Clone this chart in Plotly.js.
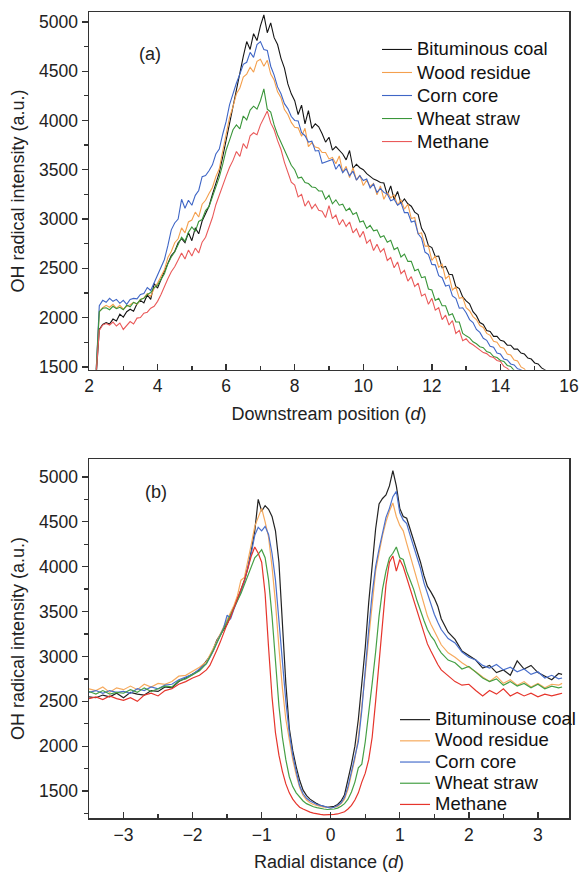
<!DOCTYPE html>
<html>
<head>
<meta charset="utf-8">
<script src="https://cdn.plot.ly/plotly-3.0.1.min.js"></script>
<style>html,body{margin:0;padding:0;background:#fff;}#chart{width:581px;height:876px;}</style>
</head>
<body>
<div id="chart"></div>
<script>
// ---------- Panel (a): downstream position ----------
const xA = [2.2,2.3,2.4,2.5,2.6,2.7,2.8,2.9,
3.0,3.1,3.2,3.3,3.4,3.5,3.6,3.7,3.8,3.9,
4.0,4.1,4.2,4.3,4.4,4.5,4.6,4.7,4.8,4.9,
5.0,5.1,5.2,5.3,5.4,5.5,5.6,5.7,5.8,5.9,
6.0,6.1,6.2,6.3,6.4,6.5,6.6,6.7,6.8,6.9,
7.0,7.1,7.2,7.3,7.4,7.5,7.6,7.7,7.8,7.9,
8.0,8.1,8.2,8.3,8.4,8.5,8.6,8.7,8.8,8.9,
9.0,9.1,9.2,9.3,9.4,9.5,9.6,9.7,9.8,9.9,
10.0,10.1,10.2,10.3,10.4,10.5,10.6,10.7,10.8,10.9,
11.0,11.1,11.2,11.3,11.4,11.5,11.6,11.7,11.8,11.9,
12.0,12.1,12.2,12.3,12.4,12.5,12.6,12.7,12.8,12.9,
13.0,13.1,13.2,13.3,13.4,13.5,13.6,13.7,13.8,13.9,
14.0,14.1,14.2,14.3,14.4,14.5,14.6,14.7,14.8,14.9,
15.0,15.1,15.2,15.3,15.4];

const coalA = [1350,1880,1930,1950,1935,1985,1965,2035,
2005,2060,2085,2065,2140,2175,2150,2230,2185,2345,
2300,2395,2470,2550,2630,2670,2760,2800,2760,2860,
2780,2910,2850,2980,3050,3130,3250,3360,3470,3630,
3800,3990,4140,4330,4490,4650,4800,4720,4880,4810,
4960,5070,4890,4990,4840,4770,4630,4530,4370,4270,
4200,4060,4155,3965,4100,3920,3965,3935,3865,3780,
3830,3700,3735,3695,3660,3600,3695,3515,3555,3520,
3500,3460,3435,3405,3390,3370,3365,3245,3335,3200,
3280,3160,3205,3155,3130,3070,3045,2905,2845,2730,
2710,2620,2625,2505,2520,2440,2435,2315,2295,2210,
2170,2140,2060,2020,1950,1930,1870,1860,1810,1810,
1770,1760,1720,1720,1680,1680,1640,1630,1590,1580,
1540,1530,1490,1470,1440];

const woodA = [1400,2060,2100,2125,2105,2135,2095,2125,
2085,2115,2130,2155,2135,2185,2200,2245,2215,2295,
2350,2425,2485,2610,2670,2760,2800,2910,2860,2970,
2990,3070,3020,3150,3190,3260,3320,3430,3510,3690,
3850,4030,4140,4270,4330,4440,4470,4540,4490,4600,
4620,4550,4610,4470,4410,4290,4230,4110,4060,3980,
3930,3925,3840,3920,3735,3775,3730,3720,3675,3675,
3610,3625,3560,3640,3475,3535,3420,3520,3395,3445,
3340,3395,3330,3360,3245,3335,3200,3270,3215,3245,
3140,3195,3100,3150,3005,3015,2850,2860,2725,2725,
2580,2625,2510,2540,2395,2425,2280,2310,2195,2205,
2100,2070,2010,1980,1920,1900,1840,1820,1760,1750,
1700,1690,1630,1620,1570,1560,1500,1480,1430,1400,
1370,1340,1310,1280,1250];

const cornA = [1400,2120,2175,2155,2195,2165,2185,2145,
2175,2135,2185,2195,2190,2235,2245,2305,2275,2355,
2420,2510,2590,2730,2890,2960,3000,3200,3110,3190,
3140,3240,3290,3430,3440,3490,3550,3660,3710,3860,
3990,4160,4280,4380,4470,4570,4590,4690,4640,4770,
4800,4720,4710,4550,4460,4340,4270,4170,4120,4040,
4000,3995,3875,3845,3780,3790,3690,3695,3565,3580,
3590,3605,3505,3555,3470,3510,3440,3485,3395,3440,
3390,3405,3315,3355,3270,3310,3270,3255,3185,3200,
3140,3165,3065,3065,2970,2980,2850,2805,2665,2640,
2540,2535,2425,2405,2320,2330,2220,2195,2095,2100,
2050,1980,1950,1880,1850,1790,1770,1710,1700,1640,
1630,1580,1570,1530,1520,1480,1470,1430,1400,1370,
1340,1310,1280,1250,1220];

const wheatA = [1400,2060,2095,2100,2080,2115,2090,2105,
2080,2125,2110,2155,2140,2185,2195,2235,2255,2305,
2330,2395,2445,2545,2615,2665,2735,2815,2775,2865,
2920,2875,2975,2995,3085,3125,3225,3325,3425,3555,
3700,3800,3905,3955,3915,4045,4005,4105,4145,4115,
4200,4320,4115,4085,3955,3855,3775,3695,3615,3545,
3500,3415,3425,3370,3360,3325,3320,3285,3285,3200,
3240,3155,3195,3140,3150,3085,3110,3045,3065,2970,
2980,2905,2935,2880,2890,2815,2830,2765,2785,2690,
2710,2615,2645,2570,2570,2475,2490,2405,2415,2290,
2280,2175,2195,2120,2120,2025,2040,1955,1955,1840,
1815,1795,1755,1735,1705,1695,1655,1645,1605,1595,
1565,1555,1515,1505,1465,1450,1420,1400,1370,1350,
1320,1300,1270,1250,1220];

const methaneA = [1400,1870,1925,1940,1925,1955,1915,1945,
1880,1925,1960,1935,1995,2000,2045,2055,2095,2115,
2165,2235,2325,2395,2465,2515,2585,2655,2595,2685,
2625,2705,2655,2765,2815,2905,3015,3145,3245,3355,
3435,3525,3595,3685,3635,3765,3715,3845,3875,3855,
3955,4025,4095,3975,3905,3795,3705,3575,3485,3375,
3345,3225,3250,3130,3185,3105,3150,3090,3080,3015,
3135,3005,3040,2940,2995,2925,2970,2860,2900,2815,
2875,2755,2790,2680,2745,2665,2700,2580,2610,2505,
2565,2445,2480,2370,2415,2315,2350,2220,2240,2135,
2195,2075,2100,1980,2025,1925,1970,1840,1870,1765,
1785,1745,1725,1695,1675,1645,1635,1605,1595,1565,
1555,1505,1485,1450,1420,1390,1360,1330,1300,1270,
1240,1210,1180,1150,1120];

// ---------- Panel (b): radial distance ----------
const xB = [-3.5,-3.4,-3.3,-3.2,-3.1,-3.0,-2.9,-2.8,-2.7,-2.6,-2.5,-2.4,-2.3,-2.2,-2.1,-2.0,-1.9,
-1.8,-1.75,-1.7,-1.65,-1.6,-1.55,-1.5,-1.45,-1.4,-1.35,
-1.3,-1.25,-1.2,-1.15,-1.1,-1.05,-1.0,-0.95,-0.9,-0.85,
-0.8,-0.75,-0.7,-0.65,-0.6,-0.55,-0.5,-0.45,-0.4,-0.35,
-0.3,-0.25,-0.2,-0.15,-0.1,-0.05,0,0.05,0.1,0.15,
0.2,0.25,0.3,0.35,0.4,0.45,0.5,0.55,0.6,0.65,
0.7,0.75,0.8,0.85,0.9,0.95,1.0,1.05,1.1,1.15,
1.2,1.25,1.3,1.35,1.4,1.45,1.5,1.55,1.6,
1.7,1.8,1.9,2.0,2.1,2.2,2.3,2.4,2.5,2.6,2.7,2.8,2.9,3.0,3.1,3.2,3.3,3.35];

const coalB = [2550,2540,2570,2550,2590,2540,2600,2580,2570,2620,2610,2660,2650,2720,2760,2810,2850,
2950,3000,3080,3180,3240,3300,3360,3450,3540,3640,
3740,3850,3990,4180,4400,4750,4620,4680,4640,4560,
4400,4050,3400,2700,2200,1950,1770,1620,1510,1450,
1410,1380,1360,1340,1330,1320,1325,1330,1350,1390,
1460,1620,1800,2000,2300,2700,3100,3600,4000,4420,
4700,4760,4800,4900,5070,4900,4650,4560,4540,4420,
4300,4180,4050,3900,3780,3720,3650,3560,3420,
3270,3190,3060,3010,2960,2870,2900,2820,2850,2790,2950,2860,2900,2820,2780,2740,2810,2800];

const woodB = [2640,2620,2660,2600,2650,2630,2670,2630,2690,2660,2700,2690,2720,2780,2790,2840,2880,
2940,3010,3090,3170,3250,3330,3410,3480,3570,3680,
3850,3880,4050,4250,4450,4560,4650,4500,4330,4000,
3600,3100,2650,2300,2050,1850,1680,1540,1450,1400,
1370,1350,1340,1330,1320,1320,1315,1320,1330,1360,
1410,1520,1680,1860,2100,2420,2800,3200,3600,3950,
4150,4350,4500,4620,4710,4560,4460,4400,4260,4120,
3980,3850,3700,3580,3450,3360,3280,3200,3130,
3040,2990,2930,2880,2830,2770,2720,2780,2700,2740,2680,2720,2660,2700,2650,2690,2680,2700];

const cornB = [2600,2620,2590,2620,2600,2610,2590,2640,2620,2660,2640,2680,2690,2740,2770,2800,2860,
2920,2990,3060,3150,3230,3320,3460,3420,3530,3620,
3720,3830,3980,4150,4350,4440,4400,4450,4360,4150,
3850,3400,2900,2500,2150,1900,1720,1560,1470,1420,
1390,1370,1350,1340,1330,1320,1310,1320,1340,1370,
1430,1550,1720,1900,2050,2400,2900,3300,3700,4000,
4200,4380,4550,4650,4780,4840,4600,4520,4480,4350,
4220,4100,3980,3820,3700,3580,3470,3380,3300,
3200,3150,3050,2990,2960,2900,2870,2910,2850,2880,2830,2860,2800,2830,2760,2790,2750,2760];

const wheatB = [2610,2580,2620,2580,2600,2590,2630,2600,2650,2610,2640,2670,2660,2730,2750,2800,2840,
2920,2990,3070,3150,3230,3310,3390,3460,3540,3620,
3700,3800,3900,4000,4100,4140,4190,4100,3850,3450,
2900,2450,2100,1850,1660,1550,1480,1430,1390,1360,
1340,1325,1315,1305,1300,1295,1295,1300,1310,1330,
1360,1410,1490,1600,1760,1800,2050,2350,2700,3050,
3450,3750,3950,4100,4150,4220,4100,4080,3950,3850,
3750,3620,3500,3400,3300,3230,3180,3100,3040,
2960,2930,2860,2890,2820,2760,2720,2750,2680,2720,2670,2700,2650,2690,2640,2670,2650,2660];

const methaneB = [2530,2550,2520,2560,2530,2510,2540,2500,2570,2590,2560,2620,2640,2690,2720,2760,2790,
2850,2900,2980,3070,3160,3270,3360,3440,3540,3640,
3730,3850,3980,4120,4220,4150,4050,3700,3100,2550,
2150,1900,1720,1580,1480,1410,1360,1320,1300,1280,
1265,1255,1245,1240,1235,1235,1235,1240,1245,1255,
1270,1300,1340,1400,1480,1600,1700,1850,2100,2500,
2950,3400,3800,4050,4120,3950,4080,4000,3880,3760,
3640,3500,3380,3260,3140,3060,2980,2910,2850,
2780,2720,2680,2690,2620,2560,2620,2580,2640,2560,2600,2560,2590,2550,2580,2560,2580,2590];

const namesA = ['Bituminous coal','Wood residue','Corn core','Wheat straw','Methane'];
const namesB = ['Bituminouse coal','Wood residue','Corn core','Wheat straw','Methane'];
const colorsA = ['#151515','#f4a04e','#3f66c6','#3a963a','#ea5a5a'];
const colorsB = ['#222222','#f6aa5e','#4a70cc','#45a045','#e6352c'];

const seriesA = [coalA, woodA, cornA, wheatA, methaneA];
const seriesB = [coalB, woodB, cornB, wheatB, methaneB];

const FONT = 'Arial, "Liberation Sans", sans-serif';
const traces = [];
seriesA.forEach((ys, i) => {
  traces.push({x: xA, y: ys, type: 'scatter', mode: 'lines', xaxis: 'x', yaxis: 'y',
    name: '<span style="font-size:18.5px">' + namesA[i] + '</span>', legend: 'legend',
    line: {color: colorsA[i], width: 1.1}});
});
seriesB.forEach((ys, i) => {
  traces.push({x: xB, y: ys, type: 'scatter', mode: 'lines', xaxis: 'x2', yaxis: 'y2',
    name: '<span style="font-size:18.5px">' + namesB[i] + '</span>', legend: 'legend2',
    line: {color: colorsB[i], width: 1.2}});
});

const axisCommon = {
  showline: true, mirror: true, linecolor: '#333', linewidth: 1.5,
  showgrid: false, zeroline: false, tickcolor: '#333', tickwidth: 1.3,
  tickfont: {size: 17.5, color: '#222', family: FONT}
};

const layout = {
  width: 581, height: 876,
  margin: {l: 89, r: 12, t: 12, b: 58, autoexpand: false},
  paper_bgcolor: '#ffffff', plot_bgcolor: '#ffffff',
  font: {family: FONT, size: 17, color: '#222'},
  showlegend: true,
  xaxis: Object.assign({}, axisCommon, {
    domain: [0, 1], anchor: 'y', range: [2, 16], tick0: 2, dtick: 2,
    ticks: 'inside', ticklen: 6,
    minor: {dtick: 1, ticks: 'inside', ticklen: 4, tickcolor: '#333'},
    title: {text: 'Downstream position (<i>d</i>)', font: {size: 18, family: FONT, color: '#222'}, standoff: 12}
  }),
  yaxis: Object.assign({}, axisCommon, {
    domain: [0.556, 1], anchor: 'x', range: [1470, 5100], tick0: 1500, dtick: 500,
    ticks: 'outside', ticklen: 6,
    minor: {dtick: 250, ticks: 'outside', ticklen: 4, tickcolor: '#333'},
    title: {text: 'OH radical intensity (a.u.)', font: {size: 18, family: FONT, color: '#222'}, standoff: 10}
  }),
  xaxis2: Object.assign({}, axisCommon, {
    domain: [0, 1], anchor: 'y2', range: [-3.5, 3.45], tick0: 0, dtick: 1,
    ticks: 'inside', ticklen: 6,
    minor: {dtick: 0.5, ticks: 'inside', ticklen: 4, tickcolor: '#333'},
    title: {text: 'Radial distance (<i>d</i>)', font: {size: 18, family: FONT, color: '#222'}, standoff: 12}
  }),
  yaxis2: Object.assign({}, axisCommon, {
    domain: [0, 0.4454], anchor: 'x2', range: [1200, 5200], tick0: 1500, dtick: 500,
    ticks: 'outside', ticklen: 6,
    minor: {dtick: 250, ticks: 'outside', ticklen: 4, tickcolor: '#333'},
    title: {text: 'OH radical intensity (a.u.)', font: {size: 18, family: FONT, color: '#222'}, standoff: 10}
  }),
  legend: {x: 0.6, y: 0.974, xanchor: 'left', yanchor: 'top', bgcolor: 'rgba(0,0,0,0)',
    font: {size: 15.4, family: FONT, color: '#111'}, tracegroupgap: 0},
  legend2: {x: 0.6375, y: 0.1414, xanchor: 'left', yanchor: 'top', bgcolor: 'rgba(0,0,0,0)',
    font: {size: 14, family: FONT, color: '#111'}, tracegroupgap: 0},
  annotations: [
    {text: '(a)', xref: 'paper', yref: 'paper', x: 0.1, y: 0.963, showarrow: false,
     font: {size: 18, family: FONT, color: '#222'}},
    {text: '(b)', xref: 'paper', yref: 'paper', x: 0.1125, y: 0.4045, showarrow: false,
     font: {size: 18, family: FONT, color: '#222'}}
  ]
};

Plotly.newPlot('chart', traces, layout, {staticPlot: true, displayModeBar: false});
</script>
</body>
</html>
